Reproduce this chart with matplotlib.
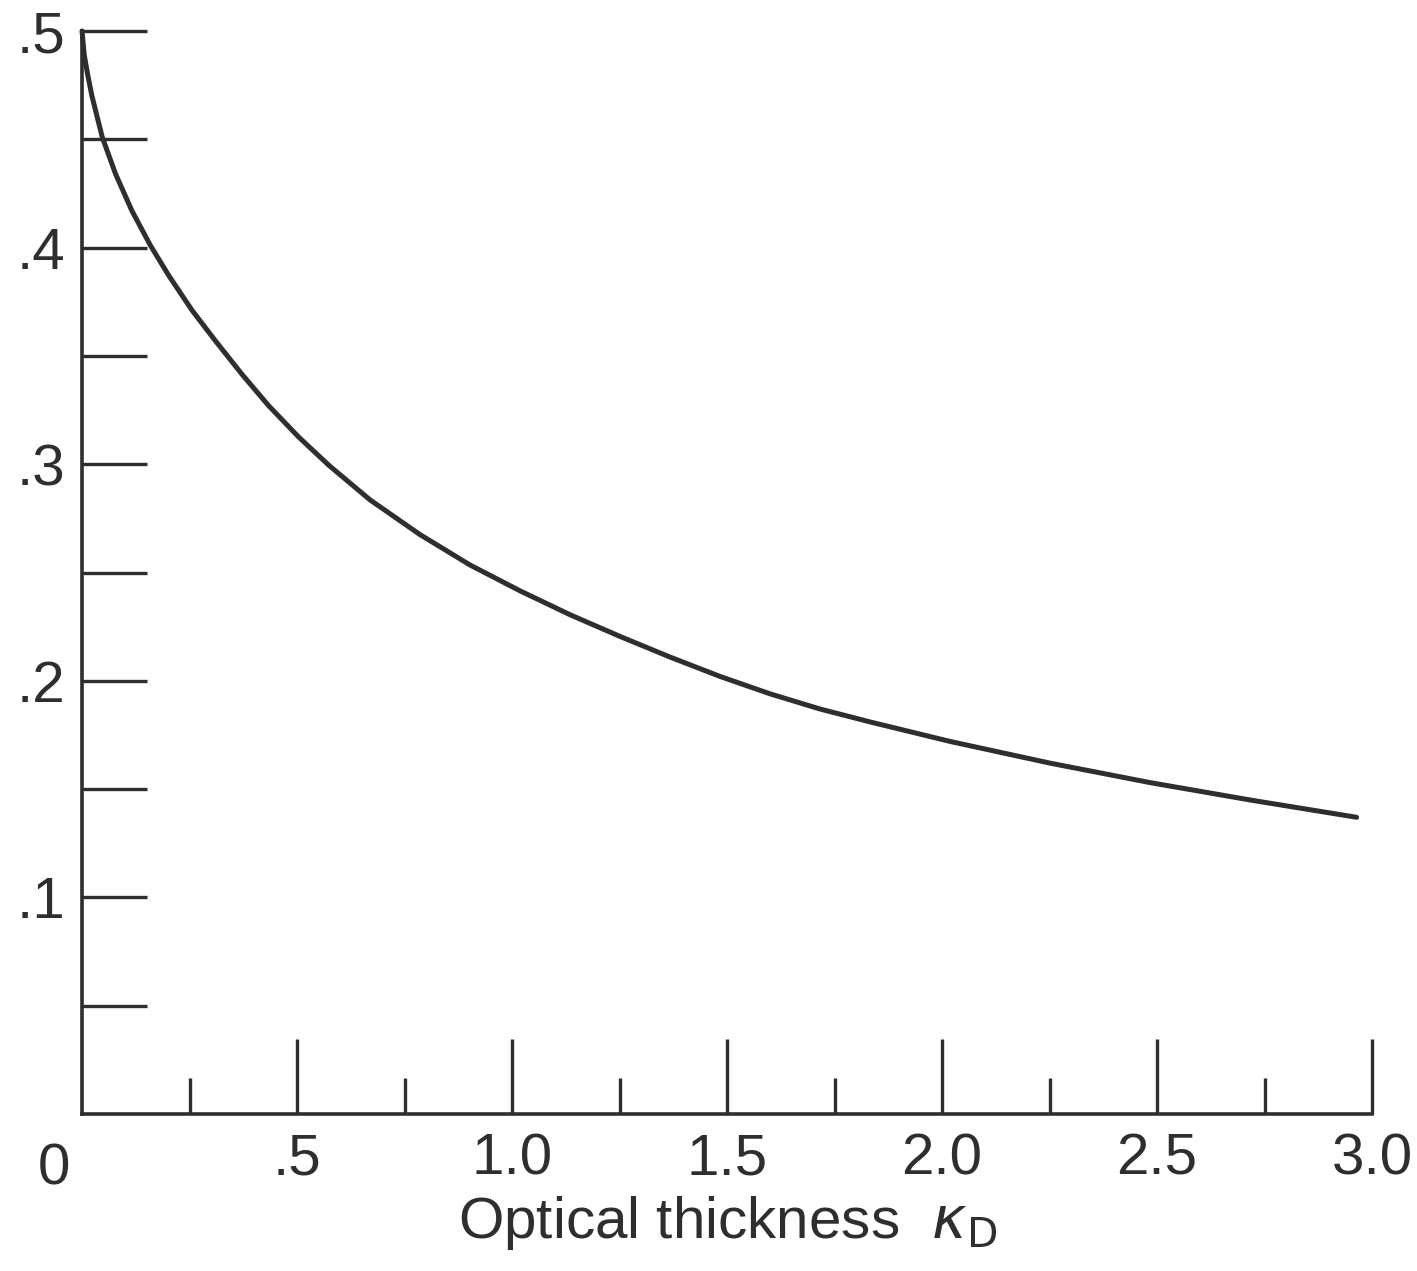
import matplotlib
matplotlib.use("Agg")
from matplotlib import pyplot as plt
from matplotlib.ticker import FixedLocator

# values
kappa_d = [0.0, 0.005, 0.013, 0.023, 0.047, 0.078, 0.116, 0.159, 0.202, 0.256,
           0.310, 0.372, 0.434, 0.504, 0.574, 0.670, 0.786, 0.902,
           1.019, 1.135, 1.251, 1.367, 1.484, 1.600, 1.716, 1.833, 2.019,
           2.251, 2.484, 2.716, 2.964]
ratio = [0.500, 0.489, 0.480, 0.470, 0.451, 0.434, 0.417, 0.401, 0.387, 0.371,
         0.357, 0.3415, 0.327, 0.3125, 0.2995, 0.2835, 0.2675, 0.2535,
         0.2415, 0.2305, 0.2205, 0.211, 0.202, 0.194, 0.187, 0.181, 0.172,
         0.162, 0.153, 0.145, 0.137]

x_major = [0.5, 1.0, 1.5, 2.0, 2.5, 3.0]
x_minor = [0.25, 0.75, 1.25, 1.75, 2.25, 2.75]
x_labels = ['.5', '1.0', '1.5', '2.0', '2.5', '3.0']
y_ticks = [0.05, 0.1, 0.15, 0.2, 0.25, 0.3, 0.35, 0.4, 0.45, 0.5]
y_labels = ['', '.1', '', '.2', '', '.3', '', '.4', '', '.5']

ink = '#2e2e2e'
plt.rcParams['font.family'] = ['Liberation Sans', 'DejaVu Sans']
plt.rcParams['mathtext.fontset'] = 'dejavusans'

fig = plt.figure(figsize=(14.17, 12.71), dpi=100)
ax = fig.add_axes([0.0579, 0.1235, 0.9104, 0.8521])

ax.plot(kappa_d, ratio, color=ink, lw=3.6, solid_capstyle='round',
        solid_joinstyle='round', clip_on=False)

ax.set_xlim(0, 3.0)
ax.set_ylim(0, 0.5)

ax.spines['top'].set_visible(False)
ax.spines['right'].set_visible(False)
for s in ['left', 'bottom']:
    ax.spines[s].set_color(ink)
    ax.spines[s].set_linewidth(2.6)

ax.xaxis.set_major_locator(FixedLocator(x_major))
ax.xaxis.set_minor_locator(FixedLocator(x_minor))
ax.set_xticklabels(x_labels)
ax.yaxis.set_major_locator(FixedLocator(y_ticks))
ax.set_yticklabels(y_labels)

ax.tick_params(axis='x', which='major', direction='in', length=54, width=2.4,
               color=ink, labelsize=42, pad=13, labelcolor=ink)
ax.tick_params(axis='x', which='minor', direction='in', length=26, width=2.4,
               color=ink)
ax.tick_params(axis='y', which='major', direction='in', length=47, width=2.4,
               color=ink, labelsize=42, pad=12, labelcolor=ink)

# the origin label sits left of the corner
ax.text(-0.065, -0.013, '0', ha='center', va='top', fontsize=42, color=ink,
        clip_on=False)

ax.set_xlabel(r'Optical thickness  $\kappa_{\mathrm{D}}$', fontsize=42,
              color=ink, labelpad=6)

fig.savefig('out.png', dpi=100, facecolor='white')
